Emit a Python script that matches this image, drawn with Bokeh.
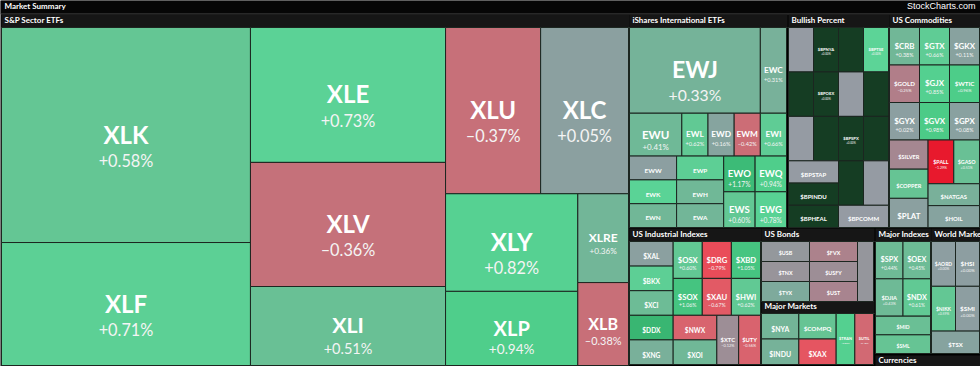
from bokeh.plotting import figure
from bokeh.models import ColumnDataSource, Range1d
from bokeh.core.properties import value
from bokeh.embed import file_html
from bokeh.resources import INLINE

# ---------------- data ----------------
sector_tickers = ["XLK", "XLF", "XLE", "XLV", "XLI", "XLU", "XLC", "XLY", "XLP", "XLRE", "XLB"]
sector_pct = [0.58, 0.71, 0.73, -0.36, 0.51, -0.37, 0.05, 0.82, 0.94, 0.36, -0.38]
sector_weight = [53.5, 30.6, 26.3, 24.2, 15.4, 15.8, 14.6, 12.9, 9.8, 4.5, 4.2]

intl_tickers = ["EWJ", "EWC", "EWU", "EWL", "EWD", "EWM", "EWI", "EWW", "EWK", "EWN",
                "EWP", "EWH", "EWA", "EWO", "EWS", "EWQ", "EWG"]
intl_pct = [0.33, 0.31, 0.41, 0.62, 0.16, -0.42, 0.66, 0.03, 0.75, 0.38,
            0.70, 0.40, 0.36, 1.17, 0.60, 0.94, 0.78]
intl_weight = [10, 2, 2, 1, 1, 1, 1, 1, 1, 1, 1, 1, 1, 1, 1, 1, 1]

bp_tickers = ["", "", "", "$BPNYA", "$BPOEX", "", "", "", "$BPSPX", "$BPTSE", "", "",
              "$BPSTAP", "$BPINDU", "$BPHEAL", "", "", "$BPCOMM"]
bp_signal = ["O", "X", "O", "X", "X", "X", "X", "O", "X", "U", "X", "X",
             "O", "X", "X", "X", "O", "O"]
bp_pct = [0, 0, 0, 0.00, 0.00, 0, 0, 0, 0.00, 0.00, 0, 0, 0, 0, 0, 0, 0, 0]

comm_tickers = ["$CRB", "$GTX", "$GKX", "$GOLD", "$GJX", "$WTIC", "$GYX", "$GVX", "$GPX",
                "$SILVER", "$COPPER", "$PLAT", "$PALL", "$GASO", "$NATGAS", "$HOIL"]
comm_pct = [0.38, 0.66, 0.11, -0.25, 0.85, 0.96, 0.02, 0.98, 0.08,
            -0.18, 0.55, 0.05, -1.29, 0.51, 0.30, 0.15]

ind_tickers = ["$XAL", "$BKX", "$XCI", "$OSX", "$SOX", "$DRG", "$XAU", "$XBD", "$HWI",
               "$DDX", "$XNG", "$NWX", "$XOI", "$XTC", "$UTY"]
ind_pct = [0.05, 0.70, 0.45, 0.60, 1.06, -0.79, -0.67, 1.05, 0.62,
           1.25, 0.30, -0.55, 0.40, -0.12, -0.56]

bond_tickers = ["$USB", "$TNX", "$TYX", "$FVX", "$USFY", "$UST", "$IRX"]
bond_pct = [-0.05, -0.08, 0.25, -0.22, -0.12, -0.20, -0.06]

mm_tickers = ["$NYA", "$INDU", "$COMPQ", "$XAX", "$TRAN", "$UTIL"]
mm_pct = [0.35, 0.32, 0.55, -0.72, 0.85, -0.48]

mi_tickers = ["$SPX", "$OEX", "$DJIA", "$NDX", "$MID", "$SML"]
mi_pct = [0.44, 0.45, 0.43, 0.61, 0.50, 0.55]

wm_tickers = ["$AORD", "$HSI", "$NIKK", "$SMI", "$TSX"]
wm_pct = [0.00, 0.00, 0.59, 0.00, 0.15]

# ---------------- treemap structure (split direction + member indices) ----------------
sector_tree = ("h", [("v", [0, 1]), ("v", [2, 3, 4]),
                     ("v", [("h", [5, 6]), ("h", [("v", [7, 8]), ("v", [9, 10])])])])
intl_tree = ("v", [("h", [0, 1]), ("h", [2, 3, 4, 5, 6]),
                   ("h", [("v", [7, 8, 9]), ("v", [10, 11, 12]), ("v", [13, 14]), ("v", [15, 16])])])
bp_tree = ("v", [("h", [("v", [0, 1, 2]), ("v", [3, 4, 5]), ("v", [6, 7, 8]), ("v", [9, 10, 11])]),
                 ("h", [("v", [12, 13, 14]), ("v", [("h", [15, 16]), 17])])])
comm_tree = ("v", [("h", [0, 1, 2]), ("h", [3, 4, 5]), ("h", [6, 7, 8]),
                   ("h", [("v", [9, 10, 11]), ("v", [("h", [12, 13]), 14, 15])])])
ind_tree = ("v", [("h", [("v", [0, 1, 2]), ("v", [3, 4]), ("v", [5, 6]), ("v", [7, 8])]),
                  ("h", [("v", [9, 10]), ("v", [11, 12]), 13, 14])])
bond_tree = ("h", [("v", [0, 1, 2]), ("v", [3, 4, 5]), 6])
mm_tree = ("h", [("v", [0, 1]), ("v", [2, 3]), 4, 5])
mi_tree = ("v", [("h", [0, 1]), ("h", [2, 3]), 4, 5])
wm_tree = ("v", [("h", [0, 1]), ("h", [2, 3]), 4])

# ---------------- styles ----------------
GRAY = (141, 158, 161)
POS_STOPS = [(0, GRAY), (0.2, (132, 165, 158)), (0.35, (115, 181, 152)), (0.5, (106, 191, 149)),
             (0.6, (98, 200, 148)), (0.75, (90, 211, 150)), (0.95, (78, 206, 138)),
             (1.2, (58, 184, 116)), (2.0, (35, 150, 85))]
NEG_STOPS = [(0, GRAY), (0.2, (168, 132, 143)), (0.37, (199, 112, 121)), (0.5, (212, 104, 114)),
             (0.7, (228, 88, 99)), (0.8, (234, 75, 88)), (1.3, (232, 24, 44)), (3.0, (200, 10, 30))]
BP_COLORS = {"X": "#153d23", "O": "#959ba3", "U": "#5cd497"}
HEAD_FONT = value("Lato")
HEAD_SIZE = "8px"


def pct_color(v):
    stops = POS_STOPS if v >= 0 else NEG_STOPS
    a = abs(v)
    for (p0, c0), (p1, c1) in zip(stops[:-1], stops[1:]):
        if a <= p1:
            t = (a - p0) / (p1 - p0)
            c = [round(c0[i] + t * (c1[i] - c0[i])) for i in range(3)]
            return "#%02x%02x%02x" % tuple(c)
    return "#%02x%02x%02x" % stops[-1][1]


def fmt_pct(v):
    return ("+" if v >= 0 else "\u2013") + "%.2f%%" % abs(v)


def node_weight(node, w):
    if isinstance(node, int):
        return w[node]
    return sum(node_weight(c, w) for c in node[1])


def layout(node, rect, w, out):
    x0, y0, x1, y1 = rect
    if isinstance(node, int):
        out[node] = rect
        return
    d, kids = node
    tot = sum(node_weight(k, w) for k in kids)
    pos = x0 if d == "h" else y0
    for k in kids:
        f = node_weight(k, w) / tot
        if d == "h":
            nxt = pos + f * (x1 - x0)
            layout(k, (pos, y0, nxt, y1), w, out)
        else:
            nxt = pos + f * (y1 - y0)
            layout(k, (x0, pos, x1, nxt), w, out)
        pos = nxt


# panel frames: (title, (x0, y0, x1, y1), tickers, pct, weights, tree, colors)
HDR = 13
panels = [
    ("S&P Sector ETFs", (1, 14, 628, 365), sector_tickers, sector_pct, sector_weight, sector_tree, None),
    ("iShares International ETFs", (629, 14, 786, 227), intl_tickers, intl_pct, intl_weight, intl_tree, None),
    ("Bullish Percent", (788, 14, 888, 227), bp_tickers, bp_pct, [1] * len(bp_tickers), bp_tree,
     [BP_COLORS[s] for s in bp_signal]),
    ("US Commodities", (889, 14, 979, 227), comm_tickers, comm_pct, [1] * len(comm_tickers), comm_tree, None),
    ("US Industrial Indexes", (629, 228, 760, 364), ind_tickers, ind_pct, [1] * len(ind_tickers), ind_tree, None),
    ("US Bonds", (761, 228, 873, 301), bond_tickers, bond_pct, [1] * len(bond_tickers), bond_tree, None),
    ("Major Markets", (761, 300, 873, 364), mm_tickers, mm_pct, [1] * len(mm_tickers), mm_tree, None),
    ("Major Indexes", (875, 228, 930, 353), mi_tickers, mi_pct, [1] * len(mi_tickers), mi_tree, None),
    ("World Markets", (931, 228, 979, 353), wm_tickers, wm_pct, [1] * len(wm_tickers), wm_tree, None),
]

cells = dict(l=[], r=[], t=[], b=[], c=[])
tick = dict(x=[], y=[], text=[], fs=[])
pcts = dict(x=[], y=[], text=[], fs=[])
hdr = dict(l=[], r=[], t=[], b=[])
hdr_txt = dict(x=[], y=[], text=[])

for title, (x0, y0, x1, y1), tks, pc, wts, tree, cols in panels:
    hdr["l"].append(x0); hdr["r"].append(x1 + 1); hdr["t"].append(y0); hdr["b"].append(y0 + HDR)
    hdr_txt["x"].append(x0 + 3); hdr_txt["y"].append(y0 + 10); hdr_txt["text"].append(title)
    out = {}
    layout(tree, (x0, y0 + HDR, x1, y1), wts, out)
    for i, (a0, b0, a1, b1) in out.items():
        cells["l"].append(a0); cells["r"].append(a1); cells["t"].append(b0); cells["b"].append(b1)
        cells["c"].append(cols[i] if cols else pct_color(pc[i]))
        t = tks[i]
        w, h = a1 - a0, b1 - b0
        if not t or w < 17:
            continue
        nch = len(t) - 0.4 * t.count("$")
        tf = min(24.0, 0.27 * h, 0.95 * w / nch)
        cx, cy = (a0 + a1) / 2, (b0 + b1) / 2
        if h >= 30:
            pf = 0.68 * tf
            tick["x"].append(cx); tick["y"].append(cy - 0.04 * tf); tick["text"].append(t)
            tick["fs"].append("%.1fpx" % tf)
            pcts["x"].append(cx); pcts["y"].append(cy + 0.8 * tf + 0.36 * pf)
            pcts["text"].append(fmt_pct(pc[i])); pcts["fs"].append("%.1fpx" % pf)
        else:
            tick["x"].append(cx); tick["y"].append(cy + 0.36 * tf); tick["text"].append(t)
            tick["fs"].append("%.1fpx" % tf)

# extra header without cells
hdr["l"].append(875); hdr["r"].append(980); hdr["t"].append(355); hdr["b"].append(368)
hdr_txt["x"].append(878); hdr_txt["y"].append(364.5); hdr_txt["text"].append("Currencies")

p = figure(width=980, height=366, x_range=Range1d(0, 980), y_range=Range1d(366, 0),
           output_backend="svg", toolbar_location=None, min_border=0,
           x_axis_type=None, y_axis_type=None)
p.grid.visible = False
p.outline_line_color = None
p.background_fill_color = "#000000"
p.border_fill_color = "#000000"

# top bar
p.quad(left=[0], right=[980], top=[0], bottom=[13.5], fill_color="#060606", line_color=None)
p.segment(x0=[0], x1=[980], y0=[13.5], y1=[13.5], line_color="#4a4a4a", line_width=1)
p.text(x=[4], y=[10], text=["Market Summary"], text_color="white", text_font_size=HEAD_SIZE,
       text_font=HEAD_FONT, text_font_style="bold")
p.text(x=[975], y=[10], text=["StockCharts.com"], text_color="white", text_font_size="9px",
       text_font=value("Liberation Sans"), text_align="right")

hs = ColumnDataSource(hdr)
p.quad(left="l", right="r", top="t", bottom="b", source=hs, fill_color="#161616",
       line_color=None)
p.segment(x0="l", x1="r", y0="b", y1="b", source=hs, line_color="#3a3a3a", line_width=1)
p.text(x="x", y="y", text="text", source=ColumnDataSource(hdr_txt), text_color="white",
       text_font_size=HEAD_SIZE, text_font=HEAD_FONT, text_font_style="bold")

p.quad(left="l", right="r", top="t", bottom="b", fill_color="c", source=ColumnDataSource(cells),
       line_color="#1c2620", line_width=1)

p.text(x="x", y="y", text="text", source=ColumnDataSource(tick), text_color="white",
       text_font_size="fs", text_font=value("Lato"), text_font_style="bold",
       text_align="center", text_baseline="alphabetic")
p.text(x="x", y="y", text="text", source=ColumnDataSource(pcts), text_color="#f4f4f4",
       text_font_size="fs", text_font=value("Lato"),
       text_align="center", text_baseline="alphabetic")

open("out.html", "w").write(file_html(p, INLINE))
